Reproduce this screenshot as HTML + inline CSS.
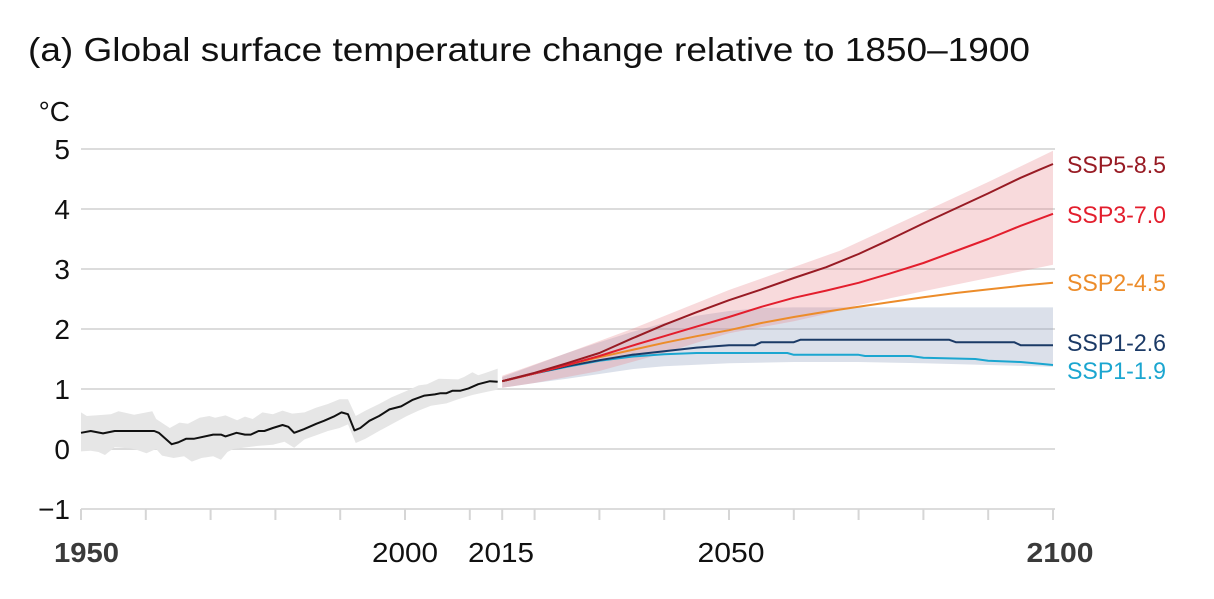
<!DOCTYPE html>
<html>
<head>
<meta charset="utf-8">
<style>
html,body{margin:0;padding:0;background:#fff;}
svg{display:block;}
text{font-family:"Liberation Sans",Arial,sans-serif;}
</style>
</head>
<body>
<svg width="1214" height="599" viewBox="0 0 1214 599" xmlns="http://www.w3.org/2000/svg">
<rect width="1214" height="599" fill="#fff"/>
<!-- title -->
<text x="28" y="61" font-size="33" fill="#111" textLength="1002" lengthAdjust="spacingAndGlyphs">(a) Global surface temperature change relative to 1850–1900</text>
<!-- unit -->
<text x="70" y="121" font-size="28" fill="#111" text-anchor="end">°C</text>
<!-- gridlines -->
<g stroke="#dcdcdc" stroke-width="2">
<line x1="81" y1="149" x2="1055" y2="149"/>
<line x1="81" y1="209" x2="1055" y2="209"/>
<line x1="81" y1="269" x2="1055" y2="269"/>
<line x1="81" y1="329" x2="1055" y2="329"/>
<line x1="81" y1="389" x2="1055" y2="389"/>
<line x1="81" y1="449" x2="1055" y2="449"/>
<line x1="81" y1="509" x2="1055" y2="509"/>
</g>
<!-- ticks -->
<g stroke="#d6d6d6" stroke-width="2">
<line x1="81" y1="509" x2="81" y2="520"/>
<line x1="145.8" y1="509" x2="145.8" y2="520"/>
<line x1="210.6" y1="509" x2="210.6" y2="520"/>
<line x1="275.4" y1="509" x2="275.4" y2="520"/>
<line x1="340.2" y1="509" x2="340.2" y2="520"/>
<line x1="405" y1="509" x2="405" y2="520"/>
<line x1="469.8" y1="509" x2="469.8" y2="520"/>
<line x1="502.2" y1="509" x2="502.2" y2="520"/>
<line x1="534.6" y1="509" x2="534.6" y2="520"/>
<line x1="599.4" y1="509" x2="599.4" y2="520"/>
<line x1="664.2" y1="509" x2="664.2" y2="520"/>
<line x1="729" y1="509" x2="729" y2="520"/>
<line x1="793.8" y1="509" x2="793.8" y2="520"/>
<line x1="858.6" y1="509" x2="858.6" y2="520"/>
<line x1="923.4" y1="509" x2="923.4" y2="520"/>
<line x1="988.2" y1="509" x2="988.2" y2="520"/>
<line x1="1053" y1="509" x2="1053" y2="520"/>
</g>
<!-- y labels -->
<g font-size="28" fill="#111" text-anchor="end">
<text x="70" y="159">5</text>
<text x="70" y="219">4</text>
<text x="70" y="279">3</text>
<text x="70" y="339">2</text>
<text x="70" y="399">1</text>
<text x="70" y="459">0</text>
<text x="70" y="519">−1</text>
</g>
<!-- x labels -->
<text x="86.5" y="562" font-size="28" font-weight="bold" fill="#3a3a3a" text-anchor="middle" textLength="65" lengthAdjust="spacingAndGlyphs">1950</text>
<text x="405" y="562" font-size="28" fill="#111" text-anchor="middle" textLength="66" lengthAdjust="spacingAndGlyphs">2000</text>
<text x="501" y="562" font-size="28" fill="#111" text-anchor="middle" textLength="66" lengthAdjust="spacingAndGlyphs">2015</text>
<text x="731" y="562" font-size="28" fill="#111" text-anchor="middle" textLength="67" lengthAdjust="spacingAndGlyphs">2050</text>
<text x="1060" y="562" font-size="28" font-weight="bold" fill="#3a3a3a" text-anchor="middle" textLength="67" lengthAdjust="spacingAndGlyphs">2100</text>

<!-- data -->
<g transform="translate(81 449) scale(6.48 -60)">
<!-- historical band -->
<polygon fill="#e6e6e6" points="0,0.61 0.9,0.55 4.6,0.58 5.8,0.63 8.2,0.57 11,0.63 11.6,0.50 13.7,0.35 15.2,0.44 16.5,0.42 18.3,0.52 19.8,0.55 20.7,0.52 22.3,0.56 24.1,0.48 25.3,0.54 26.5,0.50 28,0.61 29.6,0.58 31.1,0.64 32.6,0.59 34.5,0.61 36.3,0.69 38.1,0.75 39.9,0.83 41.2,0.83 42.4,0.55 43.9,0.64 46,0.75 47.9,0.86 50.3,0.97 52.1,1.06 53.4,1.08 55.2,1.17 58.2,1.16 59.1,1.20 60.4,1.28 61.3,1.23 62.5,1.27 64.3,1.34 64.3,0.99 62.5,0.95 60.4,0.90 58.2,0.83 56.4,0.76 54,0.72 52.1,0.64 50.3,0.55 47.9,0.41 46,0.30 43.9,0.17 42.4,0.10 41.2,0.41 39.9,0.35 38.1,0.30 36.3,0.23 34.5,0.16 32.9,0.02 31.4,0.12 29.6,0.07 27.1,0.05 25,0.02 23.5,0 22.6,-0.05 21.6,-0.18 20.4,-0.12 18.6,-0.15 17.1,-0.21 15.9,-0.12 14.3,-0.15 12.5,-0.11 11.6,0.0 10.1,-0.07 8.5,-0.01 7.6,0.01 5.2,0.03 3.7,-0.10 2.7,-0.05 1.5,-0.03 0,-0.04"/>
<!-- SSP1-2.6 band -->
<polygon fill="#8fa0bd" fill-opacity="0.32" points="65,1.2 70,1.4 75,1.6 80,1.78 85,1.95 90,2.1 95,2.22 100,2.3 105,2.35 110,2.36 150,2.36 150,1.37 140,1.40 130,1.43 120,1.45 110,1.45 100,1.43 90,1.38 85,1.33 80,1.25 75,1.17 70,1.1 65,1.02"/>
<!-- SSP3-7.0 band -->
<polygon fill="#e8868c" fill-opacity="0.3" points="65,1.22 75,1.6 85,2.0 100,2.65 117,3.3 130,3.95 140,4.45 150,4.97 150,3.07 140,2.85 130,2.63 120,2.4 115,2.25 110,2.13 100,1.93 95,1.77 90,1.6 85,1.45 80,1.3 75,1.2 70,1.1 65,1.02"/>
<g fill="none" stroke-width="2" vector-effect="non-scaling-stroke" stroke-linejoin="round">
<polyline vector-effect="non-scaling-stroke" stroke="#1ba6d0" points="65,1.13 70,1.26 75,1.37 80,1.47 85,1.54 90,1.58 95,1.60 109,1.60 110,1.57 120,1.57 121,1.55 128,1.55 130,1.52 138,1.50 140,1.47 145,1.45 148,1.42 150,1.40"/>
<polyline vector-effect="non-scaling-stroke" stroke="#1b3a66" points="65,1.13 70,1.26 75,1.38 80,1.48 85,1.57 90,1.63 95,1.69 100,1.73 104,1.73 105,1.78 110,1.78 111,1.82 134,1.82 135,1.78 144,1.78 145,1.73 150,1.73"/>
<polyline vector-effect="non-scaling-stroke" stroke="#ec8c2a" points="65,1.13 70,1.26 75,1.40 80,1.53 85,1.65 90,1.77 95,1.88 100,1.98 105,2.1 110,2.2 115,2.29 120,2.37 125,2.45 130,2.53 135,2.6 140,2.66 145,2.72 150,2.77"/>
<polyline vector-effect="non-scaling-stroke" stroke="#e31e2d" points="65,1.13 70,1.26 75,1.40 80,1.55 85,1.72 90,1.88 95,2.04 100,2.2 105,2.37 110,2.52 115,2.64 120,2.77 125,2.93 130,3.1 135,3.3 140,3.5 145,3.72 150,3.92"/>
<polyline vector-effect="non-scaling-stroke" stroke="#981b24" points="65,1.13 70,1.27 75,1.43 80,1.60 85,1.84 90,2.07 95,2.28 100,2.48 105,2.66 110,2.85 115,3.03 120,3.25 125,3.5 130,3.76 135,4.01 140,4.26 145,4.52 148,4.66 150,4.75"/>
<polyline vector-effect="non-scaling-stroke" stroke="#111" points="0,0.27 1.5,0.30 3.4,0.26 5.2,0.30 11.3,0.30 12,0.27 14,0.08 15,0.11 16.2,0.17 17.4,0.17 20.4,0.24 21.6,0.24 22.3,0.21 24,0.27 25.3,0.24 26.2,0.24 27.4,0.30 28.3,0.30 29.6,0.35 31.1,0.40 32,0.37 32.9,0.27 34.4,0.33 36.3,0.42 37.5,0.47 39,0.54 40.2,0.61 41.2,0.58 42.2,0.31 43.1,0.35 44.5,0.47 46,0.55 47.6,0.66 49.4,0.71 51.2,0.82 53,0.89 54.6,0.91 55.5,0.93 56.4,0.93 57.3,0.97 58.5,0.97 59.8,1.01 61.3,1.08 63.1,1.13 64.3,1.12"/>
</g>
</g>

<!-- scenario labels -->
<g font-size="24">
<text x="1067" y="173" fill="#981b24" textLength="99" lengthAdjust="spacingAndGlyphs">SSP5-8.5</text>
<text x="1067" y="223" fill="#e31e2d" textLength="99" lengthAdjust="spacingAndGlyphs">SSP3-7.0</text>
<text x="1067" y="291" fill="#ec8c2a" textLength="99" lengthAdjust="spacingAndGlyphs">SSP2-4.5</text>
<text x="1067" y="351" fill="#1b3a66" textLength="99" lengthAdjust="spacingAndGlyphs">SSP1-2.6</text>
<text x="1067" y="379" fill="#1ba6d0" textLength="99" lengthAdjust="spacingAndGlyphs">SSP1-1.9</text>
</g>
</svg>
</body>
</html>
